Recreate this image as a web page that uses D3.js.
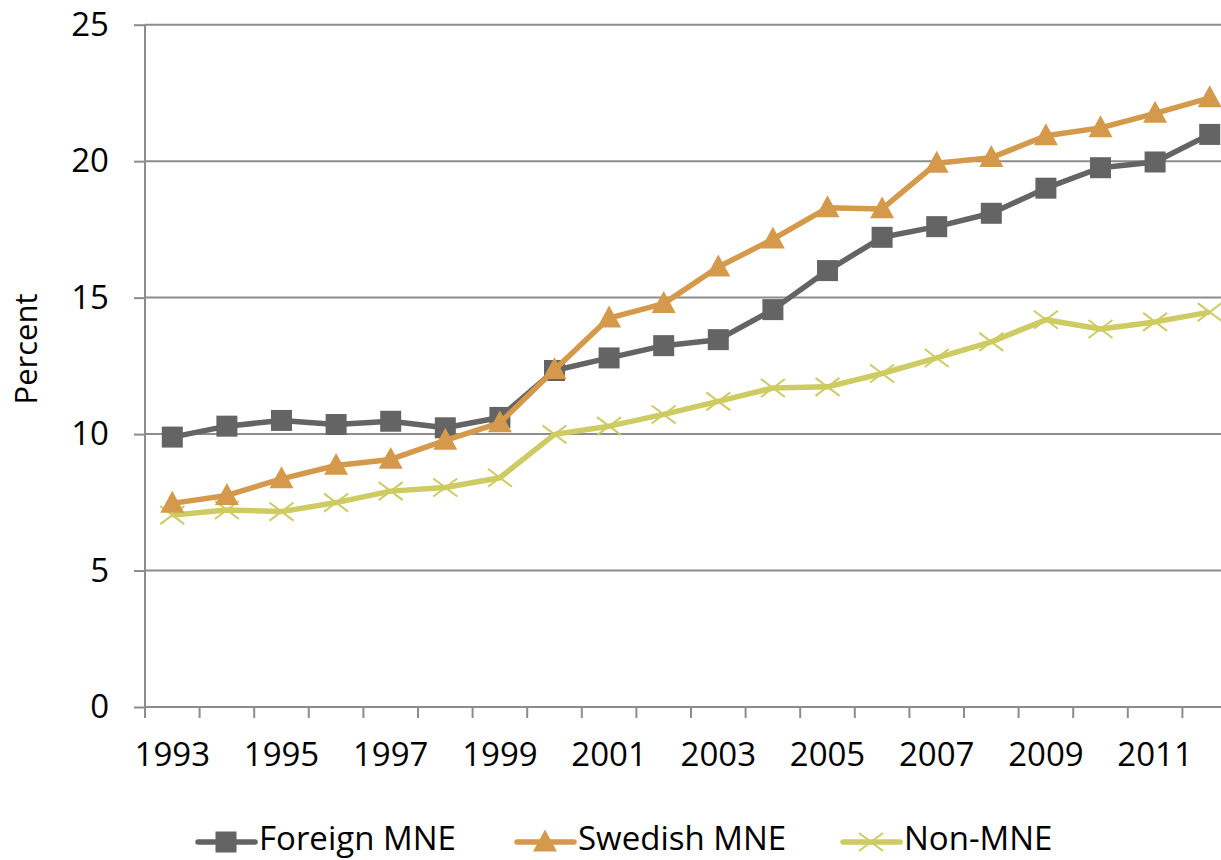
<!DOCTYPE html>
<html><head><meta charset="utf-8">
<script src="https://cdn.jsdelivr.net/npm/d3@7"></script>
<style>body{margin:0;background:#fff;overflow:hidden}svg{display:block}text{font-family:"Open Sans",sans-serif;fill:#000}</style>
</head><body><svg id="c" width="1221" height="860"></svg>
<script>
const years = [1993,1994,1995,1996,1997,1998,1999,2000,2001,2002,2003,2004,2005,2006,2007,2008,2009,2010,2011,2012];
const foreignMNE = [9.89,10.29,10.50,10.35,10.47,10.23,10.61,12.33,12.79,13.24,13.46,14.56,15.99,17.21,17.60,18.09,19.01,19.76,19.97,20.98];
const swedishMNE = [7.46,7.75,8.36,8.85,9.07,9.77,10.41,12.36,14.25,14.78,16.12,17.14,18.29,18.25,19.92,20.13,20.93,21.22,21.75,22.32];
const nonMNE = [7.03,7.22,7.16,7.49,7.91,8.04,8.40,9.99,10.29,10.72,11.20,11.69,11.73,12.22,12.79,13.38,14.19,13.85,14.11,14.47];
const yTicks = [0,5,10,15,20,25];
const xTickLabels = [1993,1995,1997,1999,2001,2003,2005,2007,2009,2011];
const seriesNames = ["Foreign MNE","Swedish MNE","Non-MNE"];
const seriesColors = ["#646464","#D4994A","#CDCB62"];
const seriesShapes = ["square","triangle","cross"];

const svg = d3.select("#c");
const pLeft = 145, pRight = 1237, pTop = 24.7, pBottom = 707;
const x = d3.scaleBand().domain(years).range([pLeft, pRight]).paddingInner(0).paddingOuter(0);
const y = d3.scaleLinear().domain([0,25]).range([pBottom, pTop]);
const cx = d => x(d) + x.bandwidth()/2;
const FS = 33;

// gridlines
svg.append("g").selectAll("line").data(yTicks.filter(t=>t>0)).join("line")
  .attr("x1", pLeft).attr("x2", pRight).attr("y1", d=>y(d)).attr("y2", d=>y(d))
  .attr("stroke","#8c8c8c").attr("stroke-width",2);

// y axis
const ya = svg.append("g").attr("transform",`translate(${pLeft},0)`)
  .call(d3.axisLeft(y).tickValues(yTicks).tickSize(11).tickPadding(25).tickFormat(d3.format("d")));
ya.select(".domain").attr("stroke","#8c8c8c").attr("stroke-width",2).attr("d",`M0,${pBottom}V${pTop}`);
ya.selectAll(".tick line").attr("stroke","#8c8c8c").attr("stroke-width",2);
ya.selectAll("text").attr("font-size",FS).attr("font-family","'Open Sans',sans-serif").attr("fill","#000");

// x axis
const xa = svg.append("g").attr("transform",`translate(0,${pBottom})`)
  .call(d3.axisBottom(x).tickValues(years).tickSize(0).tickFormat(d => xTickLabels.includes(d) ? d : ""));
xa.select(".domain").attr("stroke","#8c8c8c").attr("stroke-width",2).attr("d",`M${pLeft},0H${pRight}`);
xa.selectAll(".tick line").remove();
xa.selectAll("text").attr("font-size",FS).attr("font-family","'Open Sans',sans-serif").attr("fill","#000").attr("dy","1.7em");
// tick marks at band boundaries
const bounds = years.map(d => x(d)).concat([pRight]);
svg.append("g").selectAll("line").data(bounds).join("line")
  .attr("x1",d=>d).attr("x2",d=>d).attr("y1",pBottom).attr("y2",pBottom+11)
  .attr("stroke","#8c8c8c").attr("stroke-width",2);

// y title
svg.append("text").attr("transform","translate(37,349) rotate(-90)")
  .attr("text-anchor","middle").attr("font-size",31).text("Percent");

function marker(g, shape, color, px, py, s) {
  if (shape === "square") {
    g.append("rect").attr("x",px-s/2).attr("y",py-s/2).attr("width",s).attr("height",s).attr("fill",color);
  } else if (shape === "triangle") {
    const h = s*0.95;
    g.append("path").attr("d",`M${px},${py-h*0.6}L${px+s/2+1},${py+h*0.45}L${px-s/2-1},${py+h*0.45}Z`).attr("fill",color);
  } else {
    const r = s/2;
    g.append("path").attr("d",`M${px-r},${py-r*0.75}L${px+r},${py+r*0.75}M${px-r},${py+r*0.75}L${px+r},${py-r*0.75}`)
      .attr("stroke",color).attr("stroke-width",2).attr("fill","none");
  }
}

const allSeries = [foreignMNE, swedishMNE, nonMNE];
const line = d3.line().x((d,i)=>cx(years[i])).y(d=>y(d));
const order = [2,0,1];
const sizes = [21,22,24];
order.forEach(k => {
  const g = svg.append("g");
  g.append("path").datum(allSeries[k]).attr("d",line).attr("fill","none")
    .attr("stroke",seriesColors[k]).attr("stroke-width",5.5).attr("stroke-linejoin","round");
  allSeries[k].forEach((v,i) => marker(g, seriesShapes[k], seriesColors[k], cx(years[i]), y(v), sizes[k]));
});

// legend
const legX = [198, 517, 843];
seriesNames.forEach((n,k) => {
  const g = svg.append("g");
  const ly = 842;
  g.append("line").attr("x1",legX[k]).attr("x2",legX[k]+57).attr("y1",ly).attr("y2",ly)
    .attr("stroke",seriesColors[k]).attr("stroke-width",5.5).attr("stroke-linecap","round");
  marker(g, seriesShapes[k], seriesColors[k], legX[k]+28, ly, sizes[k]);
  g.append("text").attr("x",legX[k]+61).attr("y",850).attr("font-size",FS).text(n);
});
</script></body></html>
